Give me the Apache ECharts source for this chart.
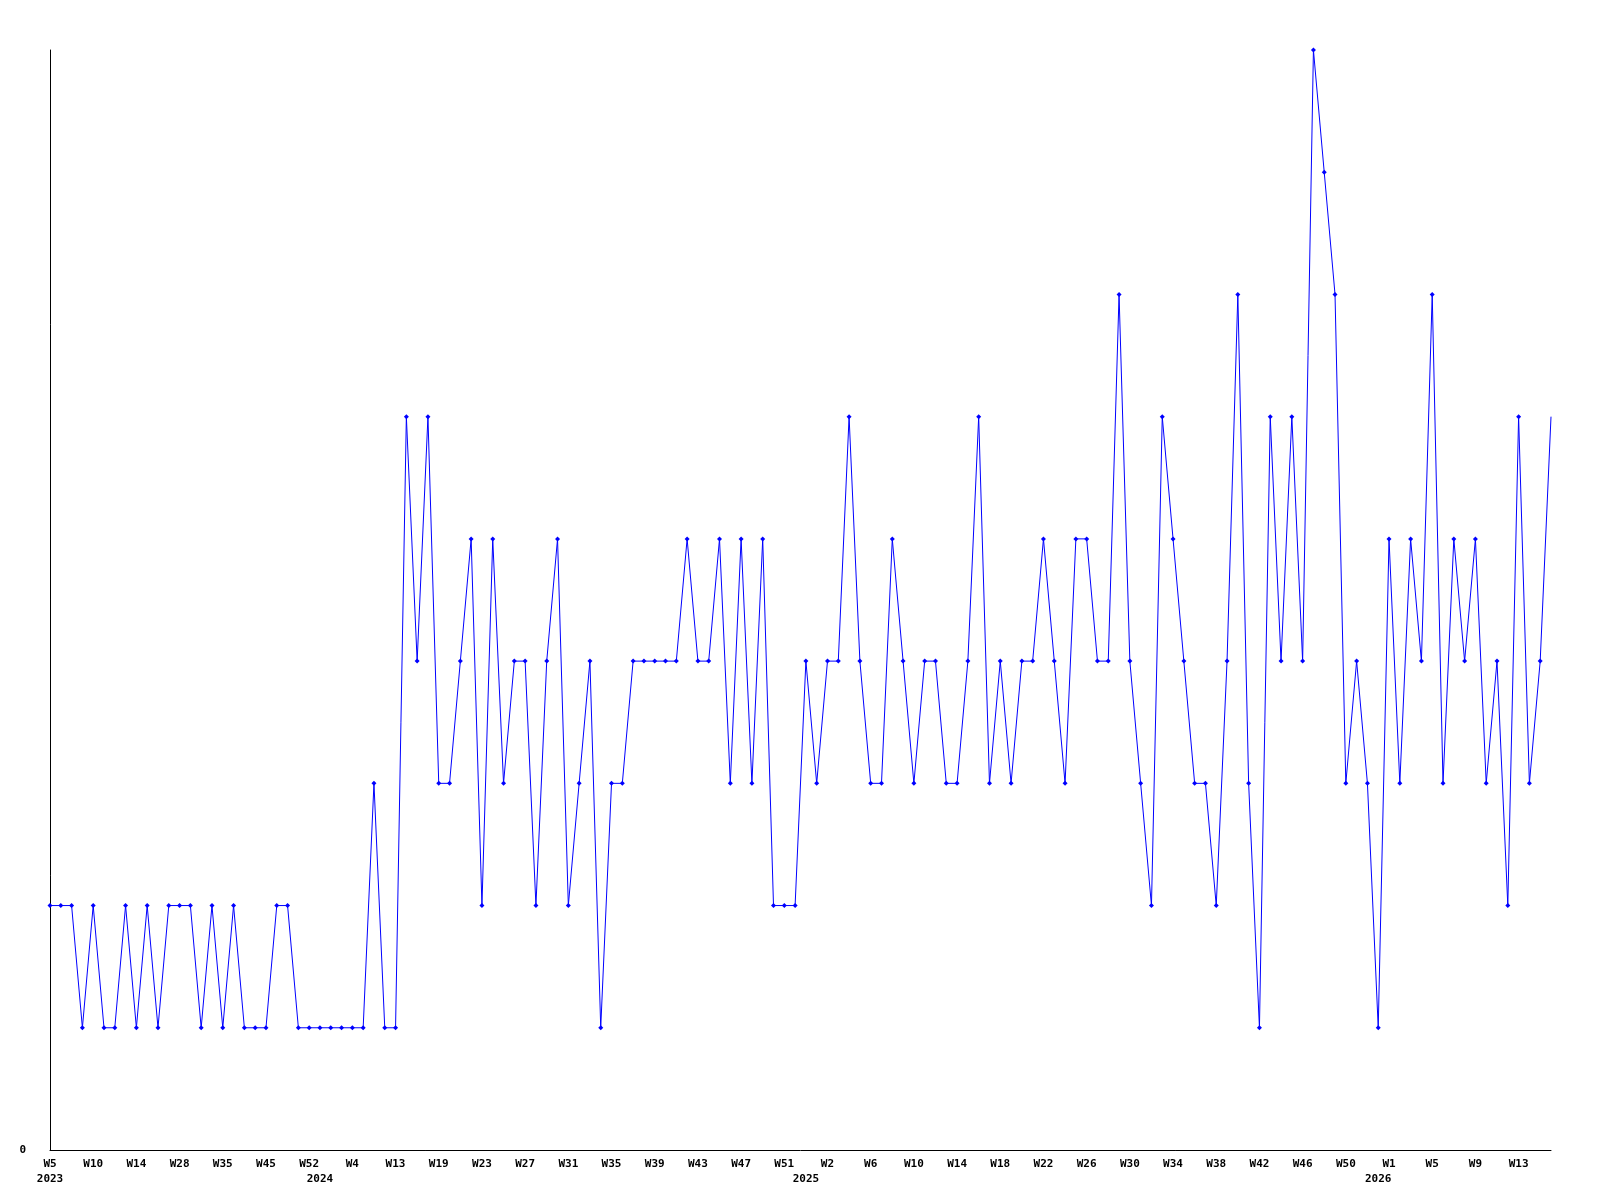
<!DOCTYPE html>
<html>
<head>
<meta charset="utf-8">
<script src="https://cdn.jsdelivr.net/npm/echarts@6/dist/echarts.min.js"></script>
<style>
html,body{margin:0;padding:0;background:#fff;}
#chart{width:1600px;height:1200px;}
</style>
</head>
<body>
<div id="chart"></div>
<script>
// Week categories (one per data point)
const weeks = [
  // 2023
  'W5','W6','W7','W9','W10','W11','W12','W13','W14','W15','W20','W24','W28','W30','W32','W33','W35','W37','W39','W42','W45','W47','W49','W50','W52',
  // 2024
  'W1','W2','W3','W4','W6','W8','W11','W13','W14','W16','W18',
  'W19','W20','W21','W22','W23','W24','W25','W26','W27','W28','W29','W30','W31','W32','W33','W34','W35','W36','W37','W38','W39','W40','W41','W42','W43','W44','W45','W46','W47','W48','W49','W50','W51','W52',
  // 2025
  'W0','W1','W2','W3','W4','W5','W6','W7','W8','W9','W10','W11','W12','W13','W14','W15','W16','W17','W18','W19','W20','W21','W22','W23','W24','W25','W26',
  'W27','W28','W29','W30','W31','W32','W33','W34','W35','W36','W37','W38','W39','W40','W41','W42','W43','W44','W45','W46','W47','W48','W49','W50','W51','W52',
  // 2026
  'W0','W1','W2','W3','W4','W5','W6','W7','W8','W9','W10','W11','W12','W13','W14','W15','W16'
];

// Year labels: category index where each year starts
const yearIndex = [0, 25, 70, 123];
const yearText = ['2023', '2024', '2025', '2026'];

// Series values
const values = [
  2,2,2,1,2,1,1,2,1,2, 1,2,2,2,1,2,1,2,1,1, 1,2,2,1,1,1,1,1,1,1, 3,1,1,
  6,4,6,3,3,4,5,2,5,3,4,4,2,4,5,2,3,4,1,3,3,4,
  4,4,4,4,5,4,4,5,3,5,3,5,2,2,2,4,3,4,4,6,4,3,3,5,
  4,3,4,4,3,3,4,6,3,4,3,4,4,5,4,3,5,5,4,4,7,4,3,
  2,6,5,4,3,3,2,4,7,3,1,6,4,6,4,9,8,7,3,4,3,
  1,5,3,5,4,7,3,5,4,5,3,4,2,6,3,4,6
];

// Y-axis tick labels
const yMin = 0, yMax = 9;
const yLabels = ['0'];

const labelFont = {
  fontFamily: 'DejaVu Sans Mono',
  fontWeight: 'bold',
  fontSize: 11,
  color: '#000'
};

const seriesData = values.map((v, i) =>
  i === values.length - 1 ? { value: v, symbol: 'none' } : v
);

const chart = echarts.init(document.getElementById('chart'), null, { renderer: 'canvas' });
chart.setOption({
  animation: false,
  backgroundColor: '#ffffff',
  grid: { left: 50, right: 49, top: 50, bottom: 50, containLabel: false },
  xAxis: [
    {
      type: 'category',
      data: weeks,
      boundaryGap: false,
      position: 'bottom',
      axisLine: { show: true, lineStyle: { color: '#000', width: 1 } },
      axisTick: { show: false },
      splitLine: { show: false },
      axisLabel: Object.assign({}, labelFont, {
        interval: 3,
        margin: 9,
        hideOverlap: false
      })
    },
    {
      type: 'category',
      data: weeks,
      boundaryGap: false,
      position: 'bottom',
      axisLine: { show: false },
      axisTick: { show: false },
      splitLine: { show: false },
      axisLabel: Object.assign({}, labelFont, {
        interval: (idx) => yearIndex.indexOf(idx) >= 0,
        formatter: (val, idx) => {
          const k = yearIndex.indexOf(idx);
          return k >= 0 ? yearText[k] : '';
        },
        margin: 24,
        hideOverlap: false
      })
    }
  ],
  yAxis: {
    type: 'value',
    min: yMin,
    max: yMax,
    interval: 9,
    axisLine: { show: true, lineStyle: { color: '#000', width: 1 } },
    axisTick: { show: false },
    splitLine: { show: false },
    axisLabel: Object.assign({}, labelFont, {
      margin: 24,
      formatter: (v) => (v === yMin ? yLabels[0] : '')
    })
  },
  series: [
    {
      type: 'line',
      xAxisIndex: 0,
      data: seriesData,
      symbol: 'diamond',
      symbolSize: 5,
      showAllSymbol: true,
      lineStyle: { color: '#0000ff', width: 1 },
      itemStyle: { color: '#0000ff', borderWidth: 0 },
      emphasis: { disabled: true }
    }
  ]
});
</script>
</body>
</html>
